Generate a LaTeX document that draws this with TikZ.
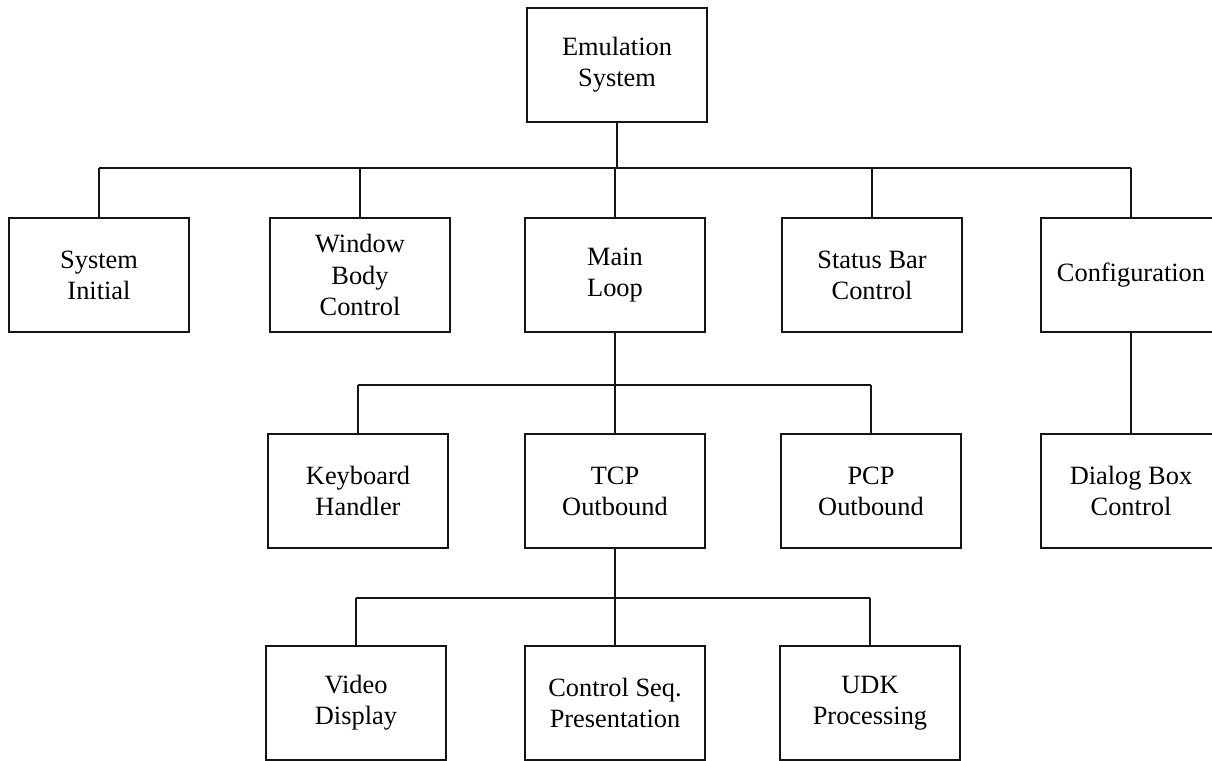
\documentclass[tikz,border=0pt]{standalone}
\usepackage{fontspec}
\setmainfont{Liberation Serif}
\usepackage{xcolor}
\usepackage{tikz}
\definecolor{inkblack}{RGB}{20, 20, 20}

\tikzset{
    modbox/.style={draw=inkblack, line width=1.1pt, fill=white, minimum width=90pt,
        minimum height=57pt, inner sep=2pt, align=center,
        font=\fontsize{13.2}{15.6}\selectfont},
    busline/.style={draw=inkblack, line width=1.2pt},
    dropline/.style={draw=inkblack, line width=0.8pt}
}

\begin{document}
\begin{tikzpicture}[x=0.5pt, y=-0.5pt]
    \clip (0,0) rectangle (1212,761);
    \fill[white] (0,0) rectangle (1212,761);

    % top level
    \node[modbox] (emul) at (617,65) {Emulation\\System};

    % first level
    \node[modbox] (sysinit)  at (99,275)   {System\\Initial};
    \node[modbox] (winbody)  at (360,275)  {Window\\Body\\Control};
    \node[modbox] (mainloop) at (615,275)  {Main\\Loop};
    \node[modbox] (statbar)  at (872,275)  {Status Bar\\Control};
    \node[modbox] (config)   at (1131,275) {Configuration};

    % second level
    \node[modbox] (keyhand) at (358,491)  {Keyboard\\Handler};
    \node[modbox] (tcpout)  at (615,491)  {TCP\\Outbound};
    \node[modbox] (pcpout)  at (871,491)  {PCP\\Outbound};
    \node[modbox] (dialog)  at (1131,491) {Dialog Box\\Control};

    % third level
    \node[modbox] (video)   at (356,703) {Video\\Display};
    \node[modbox] (ctrlseq) at (615,703) {Control Seq.\\Presentation};
    \node[modbox] (udk)     at (870,703) {UDK\\Processing};

    % bus lines
    \coordinate (busa) at (617,168);
    \coordinate (busb) at (615,385);
    \coordinate (busc) at (615,598);

    \draw[dropline] (emul.south) -- (busa);
    \draw[busline] (sysinit.north |- busa) -- (config.north |- busa);
    \foreach \n in {sysinit,winbody,mainloop,statbar,config}
        \draw[dropline] (\n.north |- busa) -- (\n.north);

    \draw[dropline] (mainloop.south) -- (busb);
    \draw[busline] (keyhand.north |- busb) -- (pcpout.north |- busb);
    \foreach \n in {keyhand,tcpout,pcpout}
        \draw[dropline] (\n.north |- busb) -- (\n.north);

    \draw[dropline] (tcpout.south) -- (busc);
    \draw[busline] (video.north |- busc) -- (udk.north |- busc);
    \foreach \n in {video,ctrlseq,udk}
        \draw[dropline] (\n.north |- busc) -- (\n.north);

    \draw[dropline] (config.south) -- (dialog.north);
\end{tikzpicture}
\end{document}
